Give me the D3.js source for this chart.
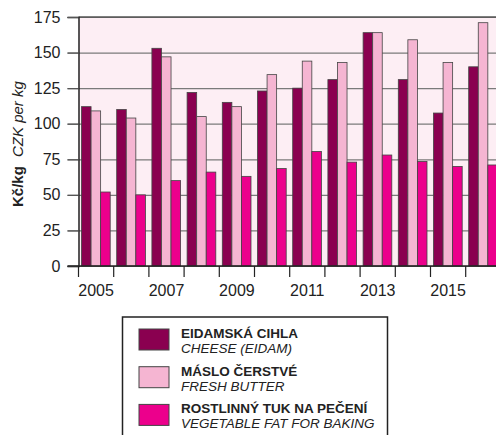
<!DOCTYPE html>
<html>
<head>
<meta charset="utf-8">
<script src="https://cdn.jsdelivr.net/npm/d3@7"></script>
<style>
  body { margin: 0; background: #fff; }
  svg { display: block; font-family: "Liberation Sans", Arial, sans-serif; }
</style>
</head>
<body>
<script>
// prices of dairy / fat products, CZK per kg
var years = [2005, 2006, 2007, 2008, 2009, 2010, 2011, 2012, 2013, 2014, 2015, 2016];
var cheese = [112, 110, 153, 122, 115, 123, 125, 131, 164, 131, 107.5, 140];
var butter = [109, 104, 147, 105, 112, 134.5, 144, 143, 164, 159, 143, 171];
var vegFat = [52, 50, 60, 66, 63, 68.5, 80.5, 73, 78, 73.5, 70, 71];
var seriesNames = ["EIDAMSKÁ CIHLA", "MÁSLO ČERSTVÉ", "ROSTLINNÝ TUK NA PEČENÍ"];
var seriesNamesEn = ["CHEESE (EIDAM)", "FRESH BUTTER", "VEGETABLE FAT FOR BAKING"];
var yTicks = [0, 25, 50, 75, 100, 125, 150, 175];
var xTickLabels = [2005, 2007, 2009, 2011, 2013, 2015];

var colors = ["#8a0050", "#f5b5d2", "#ec008c"];

var W = 496, H = 435;
var plotLeft = 78.5, plotTop = 17, plotBottom = 266, bandW = 35.2;

var svg = d3.select("body").append("svg")
  .attr("width", W)
  .attr("height", H);

// scales
var x = d3.scaleBand()
  .domain(years)
  .range([plotLeft, plotLeft + bandW * years.length]);

var xInner = d3.scaleBand()
  .domain([0, 1, 2])
  .range([3, bandW - 3.5]);

var y = d3.scaleLinear()
  .domain([0, 175])
  .range([plotBottom, plotTop]);

// plot background
svg.append("rect")
  .attr("x", plotLeft)
  .attr("y", plotTop)
  .attr("width", W - plotLeft)
  .attr("height", plotBottom - plotTop)
  .attr("fill", "#fdeef4");

// gridlines
svg.append("g")
  .attr("transform", "translate(" + (plotLeft - 11) + ",0)")
  .call(d3.axisRight(y).tickValues(yTicks).tickSize(W).tickFormat(""))
  .call(function(g) {
    g.select(".domain").remove();
    g.selectAll("line").attr("stroke", "#7a7a7a").attr("stroke-width", 1.2);
  });

// top border
svg.append("line")
  .attr("x1", plotLeft).attr("x2", W)
  .attr("y1", y(175)).attr("y2", y(175))
  .attr("stroke", "#555").attr("stroke-width", 1.5);

// bars
var data = [cheese, butter, vegFat];
data.forEach(function(vals, s) {
  svg.append("g").selectAll("rect")
    .data(vals)
    .enter()
    .append("rect")
    .attr("x", function(d, i) { return x(years[i]) + xInner(s); })
    .attr("y", function(d) { return y(d); })
    .attr("width", xInner.bandwidth())
    .attr("height", function(d) { return y(0) - y(d); })
    .attr("fill", colors[s])
    .attr("stroke", "#444")
    .attr("stroke-width", 0.8);
});

// y axis
svg.append("g")
  .attr("transform", "translate(" + plotLeft + ",0)")
  .call(d3.axisLeft(y).tickValues(yTicks).tickSize(11).tickPadding(7))
  .call(function(g) {
    g.select(".domain").attr("stroke", "#222").attr("stroke-width", 1.5);
    g.selectAll("line").attr("stroke", "#555").attr("stroke-width", 1.2);
    g.selectAll("text").attr("font-size", 16).attr("fill", "#222")
      .attr("font-family", "Liberation Sans, Arial, sans-serif");
  });

// x axis baseline and ticks at band edges
svg.append("line")
  .attr("x1", plotLeft - 11).attr("x2", W)
  .attr("y1", plotBottom).attr("y2", plotBottom)
  .attr("stroke", "#222").attr("stroke-width", 1.5);

svg.append("g").selectAll("line")
  .data(years)
  .enter()
  .append("line")
  .attr("x1", function(d) { return x(d); })
  .attr("x2", function(d) { return x(d); })
  .attr("y1", plotBottom)
  .attr("y2", plotBottom + 11)
  .attr("stroke", "#222")
  .attr("stroke-width", 1.2);

svg.append("g").selectAll("text")
  .data(xTickLabels)
  .enter()
  .append("text")
  .attr("x", function(d) { return x(d) + x.bandwidth() / 2; })
  .attr("y", plotBottom + 30)
  .attr("text-anchor", "middle")
  .attr("font-size", 16)
  .attr("fill", "#222")
  .text(function(d) { return d; });

// y axis title
svg.append("text")
  .attr("transform", "translate(23,207) rotate(-90)")
  .attr("font-size", 15)
  .attr("font-weight", "bold")
  .attr("fill", "#222")
  .text("Kč/kg");

svg.append("text")
  .attr("transform", "translate(23,157) rotate(-90)")
  .attr("font-size", 15)
  .attr("font-style", "italic")
  .attr("fill", "#222")
  .text("CZK per kg");

// legend
var legend = svg.append("g");
legend.append("rect")
  .attr("x", 122.5)
  .attr("y", 317)
  .attr("width", 265)
  .attr("height", 140)
  .attr("fill", "#fff")
  .attr("stroke", "#222")
  .attr("stroke-width", 1.5);

var rows = legend.selectAll("g.row")
  .data(seriesNames)
  .enter()
  .append("g")
  .attr("class", "row")
  .attr("transform", function(d, i) { return "translate(0," + (329 + i * 37.7) + ")"; });

rows.append("rect")
  .attr("x", 139)
  .attr("y", 0)
  .attr("width", 30)
  .attr("height", 21)
  .attr("fill", function(d, i) { return colors[i]; })
  .attr("stroke", "#444")
  .attr("stroke-width", 1);

rows.append("text")
  .attr("x", 181)
  .attr("y", 9)
  .attr("font-size", 13.5)
  .attr("font-weight", "bold")
  .attr("fill", "#222")
  .text(function(d) { return d; });

rows.append("text")
  .attr("x", 181)
  .attr("y", 24)
  .attr("font-size", 13.5)
  .attr("font-style", "italic")
  .attr("fill", "#222")
  .text(function(d, i) { return seriesNamesEn[i]; });
</script>
</body>
</html>
